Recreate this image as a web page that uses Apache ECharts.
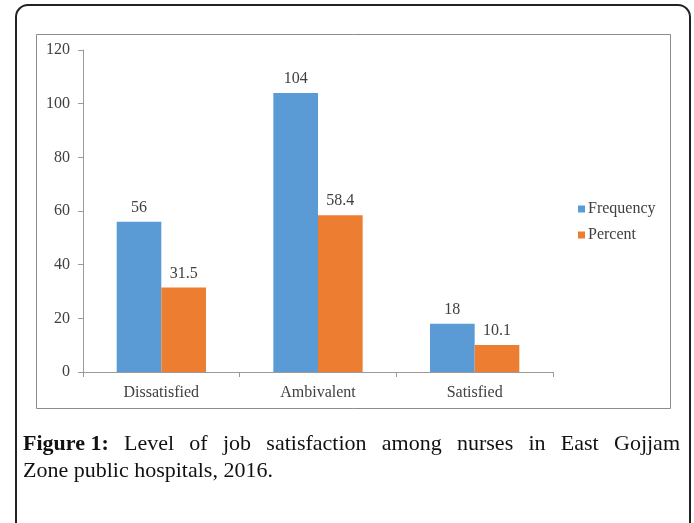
<!DOCTYPE html>
<html>
<head>
<meta charset="utf-8">
<script src="https://cdn.jsdelivr.net/npm/echarts@6/dist/echarts.min.js"></script>
<style>
html,body{margin:0;padding:0;background:#fff;}
#chart{width:694px;height:523px;}
</style>
</head>
<body>
<div id="chart"></div>
<script>
var categories = ['Dissatisfied', 'Ambivalent', 'Satisfied'];
var frequency = [56, 104, 18];
var percent = [31.5, 58.4, 10.1];
var yTicks = [0, 20, 40, 60, 80, 100, 120];
var captionLine1Bold = 'Figure 1:';
var captionLine1 = 'Level of job satisfaction among nurses in East Gojjam';
var captionLine2 = 'Zone public hospitals, 2016.';

var serif = '"Liberation Serif", "Times New Roman", serif';
var capFont = '"Liberation Serif", serif';
var chart = echarts.init(document.getElementById('chart'));

// build justified caption line 1 from words
var ctx = document.createElement('canvas').getContext('2d');
var capSize = 22;
var words = [{t: captionLine1Bold, b: true}].concat(captionLine1.split(' ').map(function (w) { return {t: w, b: false}; }));
var total = 0;
words.forEach(function (w) {
  ctx.font = (w.b ? 'bold ' : '') + capSize + 'px ' + capFont;
  w.w = ctx.measureText(w.t).width;
  total += w.w;
});
var lineStart = 23, lineEnd = 680;
var gap = (lineEnd - lineStart - total) / (words.length - 1);
var capEls = [];
var cx = lineStart;
words.forEach(function (w) {
  capEls.push({
    type: 'text', left: cx, top: 433,
    style: {text: w.t, font: (w.b ? 'bold ' : '') + capSize + 'px ' + capFont, fill: '#111'}
  });
  cx += w.w + gap;
});
capEls.push({
  type: 'text', left: lineStart, top: 460,
  style: {text: captionLine2, font: capSize + 'px ' + capFont, fill: '#111'}
});

var option = {
  backgroundColor: '#fff',
  animation: false,
  graphic: [
    {type: 'rect', shape: {x: 16, y: 5, width: 674, height: 640, r: 12}, style: {fill: 'none', stroke: '#222', lineWidth: 2}},
    {type: 'rect', shape: {x: 36.5, y: 34.5, width: 634, height: 374}, style: {fill: 'none', stroke: '#8c8c8c', lineWidth: 1}}
  ].concat(capEls),
  grid: {left: 83, right: 141, top: 50, bottom: 151, containLabel: false},
  legend: {
    orient: 'vertical', left: 578, top: 201, padding: 0,
    itemWidth: 7, itemHeight: 7, itemGap: 10, icon: 'rect',
    textStyle: {fontFamily: serif, fontSize: 16, color: '#404040', padding: [0, 0, 0, -2]},
    data: ['Frequency', 'Percent']
  },
  xAxis: {
    type: 'category', data: categories,
    axisLine: {lineStyle: {color: '#9a9a9a'}},
    axisTick: {show: true, length: 5, lineStyle: {color: '#9a9a9a'}},
    axisLabel: {fontFamily: serif, fontSize: 16, color: '#404040', margin: 13}
  },
  yAxis: {
    type: 'value', min: 0, max: 120, interval: 20,
    splitLine: {show: false},
    axisLine: {show: true, lineStyle: {color: '#9a9a9a'}},
    axisTick: {show: true, length: 5, lineStyle: {color: '#9a9a9a'}},
    axisLabel: {fontFamily: serif, fontSize: 16, color: '#404040', margin: 13,
      formatter: function (v) { return yTicks.indexOf(v) >= 0 ? String(v) : ''; }}
  },
  series: [
    {name: 'Frequency', type: 'bar', data: frequency, barGap: '0%', barCategoryGap: '43%',
      itemStyle: {color: '#5B9BD5'},
      label: {show: true, position: 'top', distance: 6, fontFamily: serif, fontSize: 16, color: '#404040'}},
    {name: 'Percent', type: 'bar', data: percent,
      itemStyle: {color: '#ED7D31'},
      label: {show: true, position: 'top', distance: 6, fontFamily: serif, fontSize: 16, color: '#404040'}}
  ]
};
chart.setOption(option);
</script>
</body>
</html>
